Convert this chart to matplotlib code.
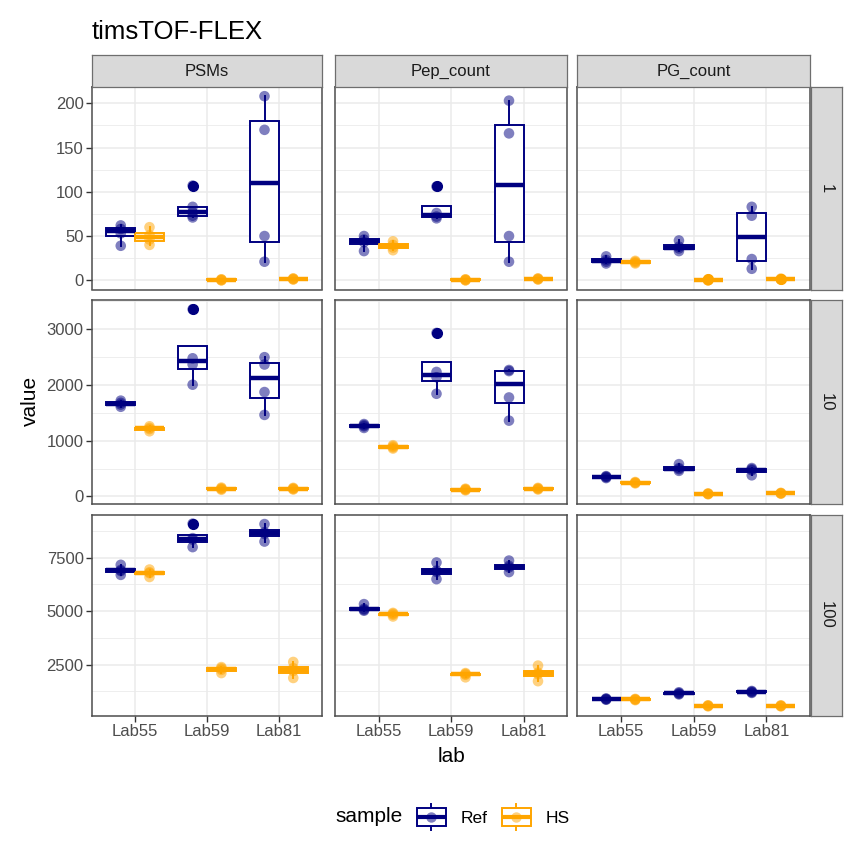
import matplotlib
matplotlib.use("Agg")
import matplotlib.pyplot as plt
from matplotlib.legend_handler import HandlerBase
from matplotlib.lines import Line2D
from matplotlib.patches import Rectangle
import numpy as np

plt.rcParams['font.family'] = ['Liberation Sans', 'DejaVu Sans']

# ---------------- data ----------------
title = "timsTOF-FLEX"
labs = ["Lab55", "Lab59", "Lab81"]
samples = ["Ref", "HS"]
metrics = ["PSMs", "Pep_count", "PG_count"]
dilutions = ["1", "10", "100"]

# values per lab (Lab55, Lab59, Lab81)
psms_1_ref = [[39, 53, 58, 62], [71, 73, 77, 83, 107], [21, 50, 170, 208]]
psms_1_hs = [[40, 46, 51, 60], [0, 0, 1, 1], [1, 1, 2, 2]]
pep_1_ref = [[33, 43, 46, 50], [70, 72, 76, 106], [21, 50, 166, 203]]
pep_1_hs = [[34, 37, 40, 44], [0, 0, 1, 1], [1, 1, 2, 2]]
pg_1_ref = [[19, 21, 23, 27], [33, 36, 38, 45], [13, 24, 73, 83]]
pg_1_hs = [[19, 20, 21, 22], [0, 0, 0, 1], [1, 1, 1, 2]]

psms_10_ref = [[1610, 1650, 1680, 1720], [2006, 2370, 2480, 3360], [1464, 1874, 2368, 2500]]
psms_10_hs = [[1170, 1210, 1230, 1260], [120, 135, 145, 160], [125, 135, 145, 155]]
pep_10_ref = [[1230, 1260, 1280, 1300], [1843, 2140, 2235, 2935], [1361, 1777, 2250, 2270]]
pep_10_hs = [[860, 880, 900, 920], [110, 120, 130, 140], [125, 135, 145, 155]]
pg_10_ref = [[330, 345, 355, 365], [460, 490, 510, 580], [380, 470, 490, 510]]
pg_10_hs = [[235, 245, 250, 260], [40, 45, 50, 55], [50, 55, 60, 65]]

psms_100_ref = [[6700, 6880, 6930, 7170], [8000, 8350, 8420, 9100], [8260, 8620, 8700, 9080]]
psms_100_hs = [[6600, 6780, 6820, 6950], [2100, 2250, 2320, 2380], [1870, 2200, 2330, 2620]]
pep_100_ref = [[5020, 5060, 5110, 5330], [6500, 6840, 6900, 7280], [6830, 7050, 7120, 7370]]
pep_100_hs = [[4750, 4830, 4880, 4920], [1900, 2020, 2060, 2100], [1720, 2050, 2120, 2450]]
pg_100_ref = [[850, 870, 890, 910], [1100, 1130, 1160, 1200], [1170, 1200, 1230, 1260]]
pg_100_hs = [[830, 855, 870, 890], [540, 560, 575, 590], [540, 555, 570, 590]]

row_yticks = [[0, 50, 100, 150, 200], [0, 1000, 2000, 3000], [2500, 5000, 7500]]
row_yminor = [[25, 75, 125, 175], [500, 1500, 2500, 3500], [1250, 3750, 6250, 8750]]

panel_data = {
    ("PSMs", "1"): (psms_1_ref, psms_1_hs),
    ("Pep_count", "1"): (pep_1_ref, pep_1_hs),
    ("PG_count", "1"): (pg_1_ref, pg_1_hs),
    ("PSMs", "10"): (psms_10_ref, psms_10_hs),
    ("Pep_count", "10"): (pep_10_ref, pep_10_hs),
    ("PG_count", "10"): (pg_10_ref, pg_10_hs),
    ("PSMs", "100"): (psms_100_ref, psms_100_hs),
    ("Pep_count", "100"): (pep_100_ref, pep_100_hs),
    ("PG_count", "100"): (pg_100_ref, pg_100_hs),
}

# ---------------- style ----------------
NAVY = "#000080"
ORANGE = "#FFA500"
colors = [NAVY, ORANGE]
offsets = [-0.2, 0.2]
GRID = "#EBEBEB"
BORDER = "#4D4D4D"
STRIP_BG = "#D9D9D9"
TICKTXT = "#4D4D4D"

W, H = 863, 850
fig = plt.figure(figsize=(W / 100, H / 100), dpi=100)


def add_px_axes(x0, y0, x1, y1, **kw):
    return fig.add_axes([x0 / W, 1 - y1 / H, (x1 - x0) / W, (y1 - y0) / H], **kw)


col_px = [(92, 322), (335, 567), (577, 810)]
row_px = [(87, 289.5), (300, 503.5), (514.5, 715.5)]
xpos = np.arange(1, len(labs) + 1)

for i, dil in enumerate(dilutions):
    allv = []
    for met in metrics:
        for grp in panel_data[(met, dil)]:
            for v in grp:
                allv.extend(v)
    lo, hi = min(allv), max(allv)
    pad = 0.05 * (hi - lo)
    for j, met in enumerate(metrics):
        x0, x1 = col_px[j]
        y0, y1 = row_px[i]
        ax = add_px_axes(x0, y0, x1, y1)
        ax.set_xlim(0.4, 3.6)
        ax.set_ylim(lo - pad, hi + pad)
        ax.set_axisbelow(True)
        ax.set_xticks(xpos)
        ax.set_yticks(row_yticks[i])
        ax.set_yticks(row_yminor[i], minor=True)
        ax.grid(which='major', color=GRID, lw=1.1)
        ax.grid(which='minor', axis='y', color=GRID, lw=0.6)
        for s in ax.spines.values():
            s.set_color(BORDER)
            s.set_linewidth(1.1)
        ax.tick_params(axis='both', which='major', length=4, width=1.0, color='#333333',
                       labelcolor=TICKTXT, labelsize=12, pad=2)
        ax.tick_params(axis='y', which='minor', length=0)
        if i == len(dilutions) - 1:
            ax.set_xticklabels(labs)
        else:
            ax.tick_params(axis='x', length=0, labelbottom=False)
        if j == 0:
            ax.set_yticklabels([str(t) for t in row_yticks[i]])
        else:
            ax.tick_params(axis='y', length=0, labelleft=False)

        groups = panel_data[(met, dil)]
        for k, vals in enumerate(groups):
            c = colors[k]
            pos = xpos + offsets[k]
            ax.boxplot(vals, positions=pos, widths=0.4, whis=1.5, showcaps=False,
                       patch_artist=True, manage_ticks=False,
                       boxprops=dict(facecolor='white', edgecolor=c, linewidth=1.4),
                       medianprops=dict(color=c, linewidth=3.2, solid_capstyle='butt'),
                       whiskerprops=dict(color=c, linewidth=1.4),
                       flierprops=dict(marker='o', markerfacecolor=c, markeredgecolor=c,
                                       markersize=7),
                       zorder=3)
            for p, v in zip(pos, vals):
                ax.scatter(np.full(len(v), p), v, s=58, color=c, alpha=0.5,
                           edgecolors='none', zorder=4)

        if i == 0:
            sax = add_px_axes(x0, 55, x1, 87)
            sax.set_facecolor(STRIP_BG)
            sax.set_xticks([]); sax.set_yticks([])
            for s in sax.spines.values():
                s.set_color('#6e6e6e'); s.set_linewidth(0.9)
            sax.text(0.5, 0.5, met, ha='center', va='center', fontsize=12,
                     color='#1A1A1A', transform=sax.transAxes)
    y0, y1 = row_px[i]
    rax = add_px_axes(811, y0, 842, y1)
    rax.set_facecolor(STRIP_BG)
    rax.set_xticks([]); rax.set_yticks([])
    for s in rax.spines.values():
        s.set_color('#6e6e6e'); s.set_linewidth(0.9)
    rax.text(0.5, 0.5, dil, ha='center', va='center', rotation=-90, fontsize=12,
             color='#1A1A1A', transform=rax.transAxes)

fig.text(92 / W, 1 - 39 / H, title, fontsize=18.5, ha='left', va='baseline', color='black')
fig.text(30 / W, 1 - 401 / H, "value", rotation=90, ha='center', va='center', fontsize=15)
fig.text(451 / W, 1 - 757 / H, "lab", ha='center', va='center', fontsize=15)


class BoxKey(HandlerBase):
    def create_artists(self, legend, orig_handle, xd, yd, width, height, fontsize, trans):
        c = orig_handle.get_color()
        cx = -xd + width / 2
        cy = -yd + height / 2
        bw = width * 0.95
        bh = height * 0.66
        whisk = Line2D([cx, cx], [-yd, -yd + height], color=c, lw=1.4, transform=trans)
        rect = Rectangle((cx - bw / 2, cy - bh / 2), bw, bh, facecolor='white',
                         edgecolor=c, lw=1.4, transform=trans)
        med = Line2D([cx - bw / 2, cx + bw / 2], [cy, cy], color=c, lw=3.0,
                     solid_capstyle='butt', transform=trans)
        pt = Line2D([cx], [cy], marker='o', markersize=7.5, color=c, alpha=0.5,
                    markeredgewidth=0, linestyle='none', transform=trans)
        return [whisk, rect, med, pt]


handles = [Line2D([], [], color=c) for c in colors]
fig.text(335 / W, 1 - 817 / H, "sample", ha='left', va='center', fontsize=15)
fig.legend(handles=handles, labels=samples, handler_map={Line2D: BoxKey()}, ncol=2,
           loc='center left', bbox_to_anchor=(416 / W, 1 - 817 / H), frameon=False,
           handlelength=1.75, handleheight=1.95, handletextpad=0.8, columnspacing=0.8,
           fontsize=12.5, borderpad=0, borderaxespad=0)

fig.savefig("out.png", dpi=100)
